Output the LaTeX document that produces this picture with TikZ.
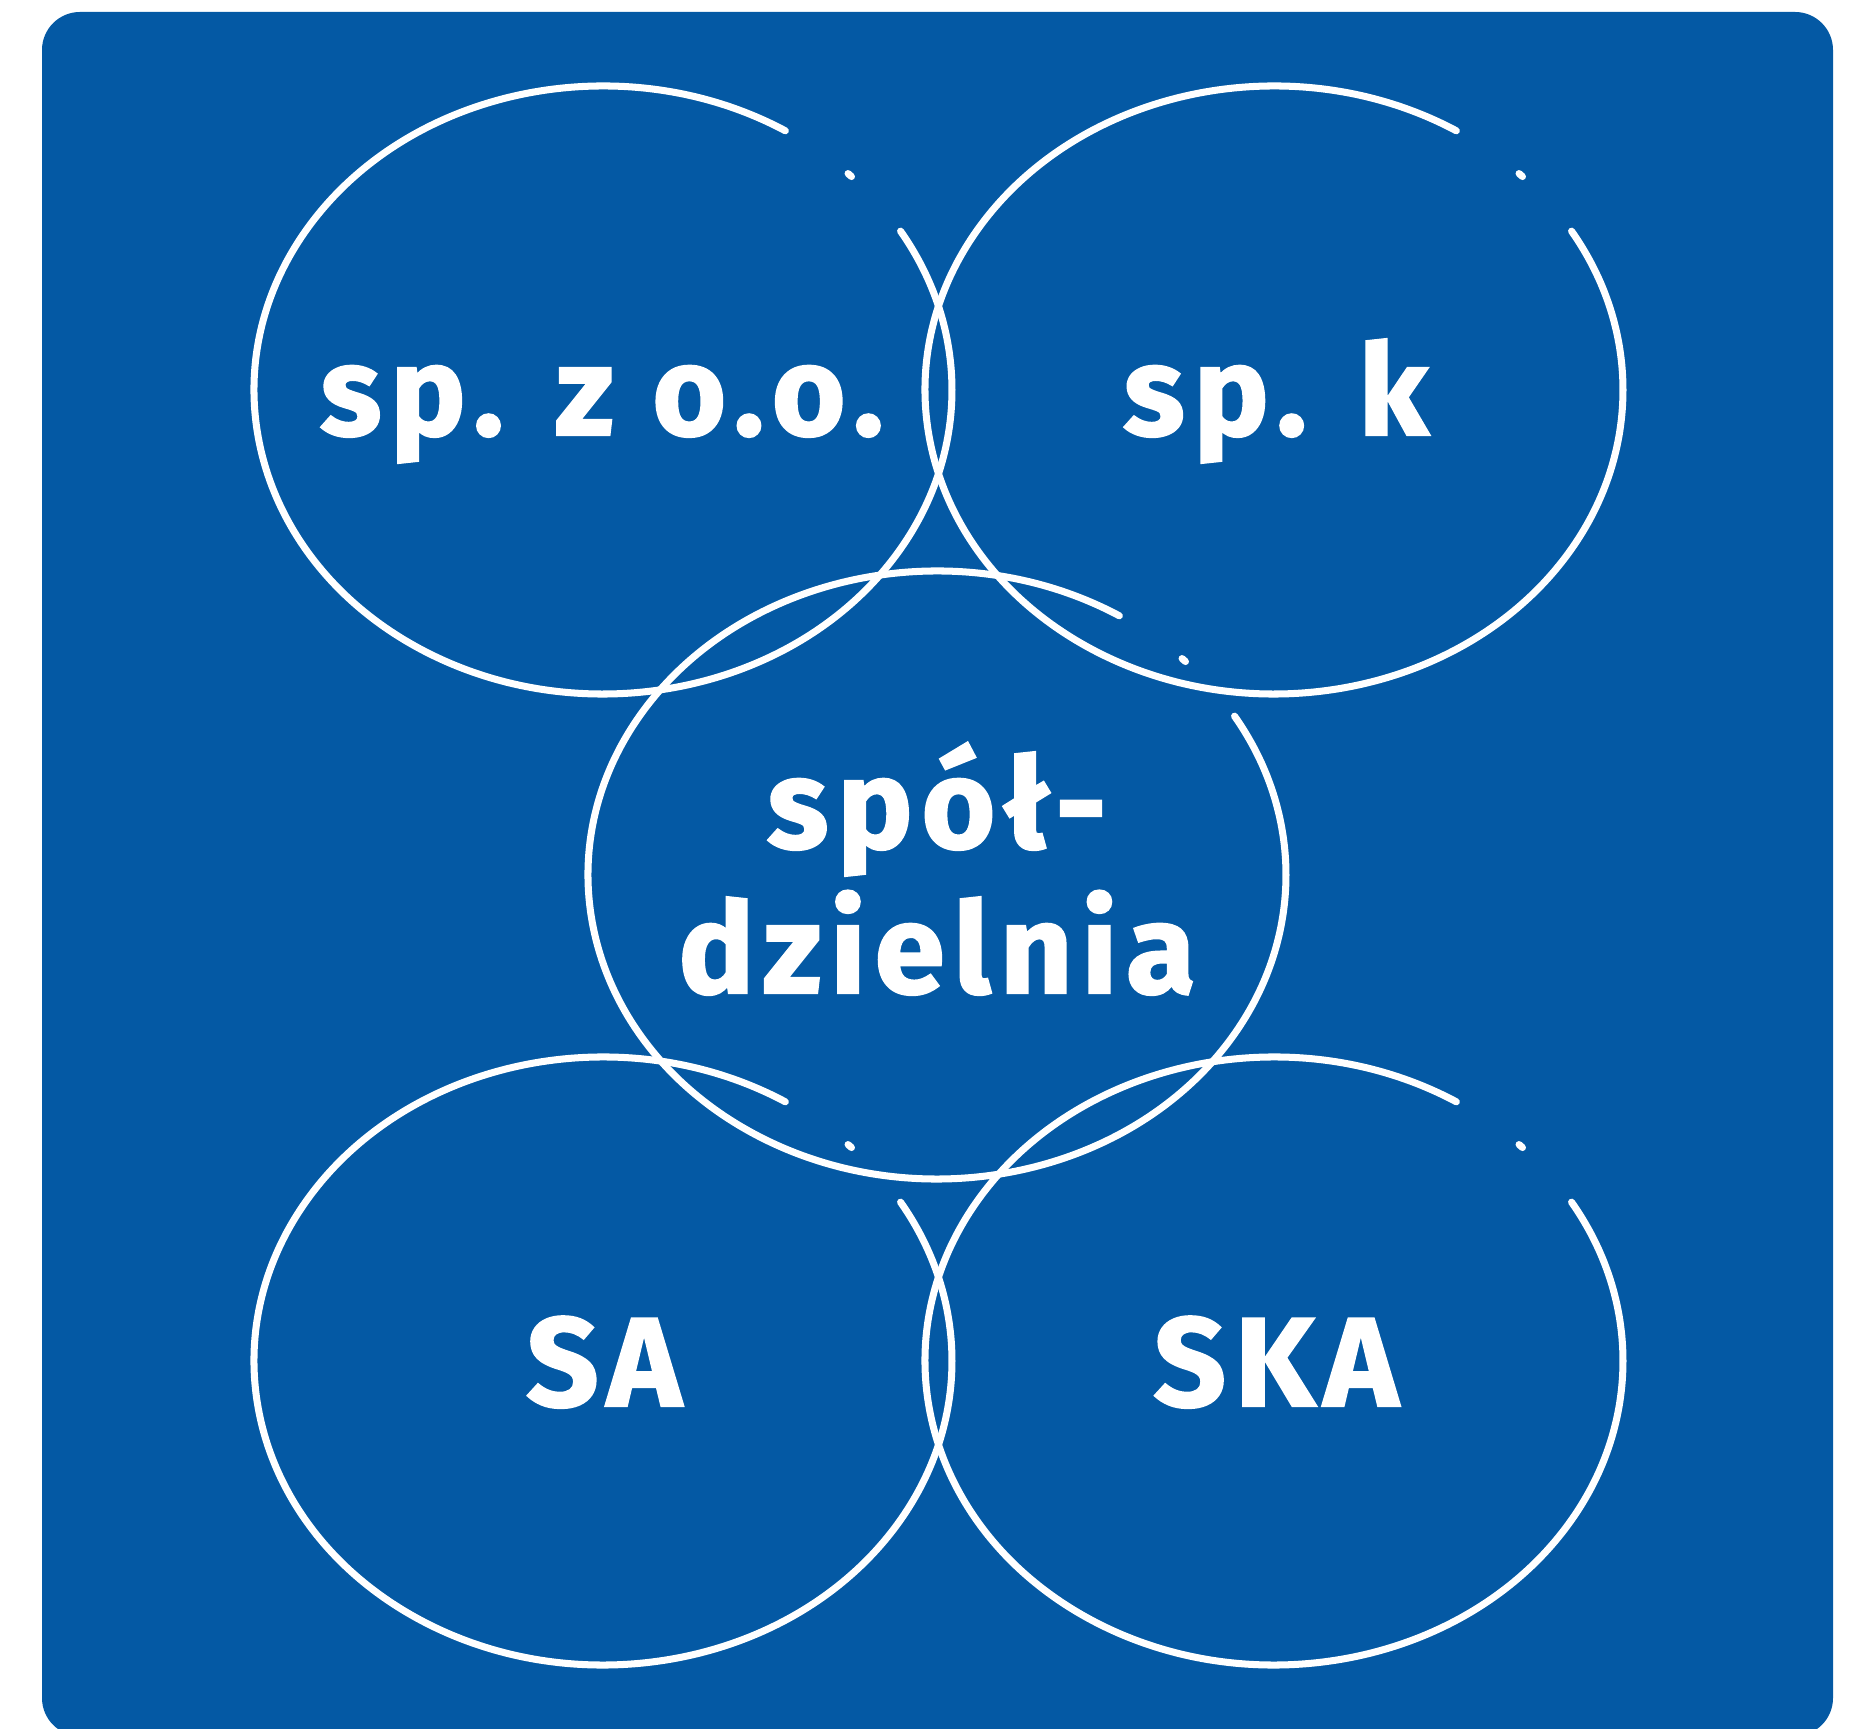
\documentclass[tikz,border=0pt]{standalone}
\usepackage{fontspec}
\setmainfont{Fira Sans}[BoldFeatures={FakeBold=1.6, LetterSpace=7}]
\definecolor{formblue}{HTML}{0459A4}
\begin{document}
\begin{tikzpicture}[x=0.02cm, y=0.02cm]
	\tikzstyle{ring} = [draw=white, line width=4pt, line cap=round]
	\tikzstyle{formname} = [text=white, font=\fontsize{72}{84}\selectfont\bfseries, inner sep=0pt, anchor=base]

	\clip (0,0) rectangle (1849,1728);
	\fill[formblue, rounded corners=0.76cm] (42,-8) rectangle (1833,1716);

	% five open rings, each with a gap and a dot
	\foreach \name/\x/\y in {zoo/603/1338, spk/1274/1338, coop/937/853, sa/603/367, ska/1274/367}
	{
		\coordinate (\name) at (\x,\y);
		\draw[ring] (\name) ++(58.5:349 and 304) arc[start angle=58.5, end angle=391.5, x radius=349, y radius=304];
		\draw[ring] (\name) ++(44.6:349 and 304) arc[start angle=44.6, end angle=45.4, x radius=349, y radius=304];
	}

	\node[formname] (zootext) at (602,1293) {sp. z o.o.};
	\node[formname] (spktext) at (1276,1293) {sp. k};
	\node[formname] (cooptop) at (937,880) {spół-};
	\node[formname] (coopbot) at (937,735) {dzielnia};
	\node[formname] (satext) at (604,322) {SA};
	\node[formname] (skatext) at (1276,322) {SKA};
\end{tikzpicture}
\end{document}
